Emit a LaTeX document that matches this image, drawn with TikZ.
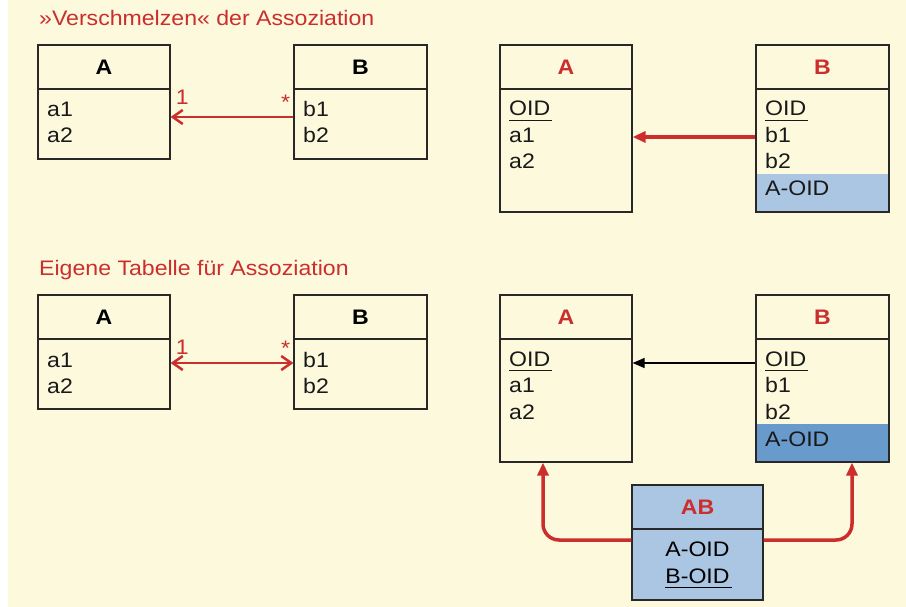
\documentclass[tikz,border=0pt]{standalone}
\usepackage{fontspec}
\setmainfont{Liberation Sans}[FakeStretch=1.1]
\usepackage{xcolor}
\usetikzlibrary{arrows.meta}

\definecolor{fondo}{RGB}{252,249,221}
\definecolor{rojo}{RGB}{204,45,45}
\definecolor{azulclaro}{RGB}{171,198,227}
\definecolor{azul}{RGB}{104,154,204}
\definecolor{borde}{RGB}{40,40,40}

% clave subrayada
\newcommand{\clave}[1]{\setbox0=\hbox{#1}\rlap{\rule[-5pt]{\dimexpr\wd0+2pt\relax}{1.1pt}}\box0}

\begin{document}
\begin{tikzpicture}[x=1pt, y=-1pt,
    every node/.style={font=\fontsize{21}{25}\selectfont},
    cabeza/.style={draw=borde, line width=1.2pt, minimum height=44pt, inner sep=0pt, font=\fontsize{21}{25}\selectfont\bfseries},
    cuerpo/.style={draw=borde, line width=1.2pt, inner sep=0pt},
    atributo/.style={anchor=base west, inner sep=0pt, text=black!90},
    mult/.style={text=rojo, inner sep=0pt},
    abierta/.style={draw=rojo, line width=2.5pt, -{Straight Barb[length=10pt,width=14pt]}},
    llena/.style={draw=rojo, line width=3.5pt, -{Triangle[length=13pt,width=11pt]}},
    fina/.style={draw=black, line width=1.2pt, -{Triangle[length=12pt,width=10pt]}}]

\useasboundingbox (0,0) rectangle (906,607);
\fill[fondo] (8,0) rectangle (906,607);

% Titulos
\node[anchor=base west, text=rojo, inner sep=0pt] (tit1) at (39,26) {»Verschmelzen« der Assoziation};
\node[anchor=base west, text=rojo, inner sep=0pt] (tit2) at (39,276) {Eigene Tabelle für Assoziation};

% Franjas azules
\node[fill=azulclaro, minimum width=133pt, minimum height=38pt, inner sep=0pt] (franja1) at (822.5,193) {};
\node[fill=azul, minimum width=133pt, minimum height=38pt, inner sep=0pt] (franja2) at (822.5,443) {};

% Clases (izquierda)
\foreach \n/\k/\l/\x/\w/\dy in {A1/A/a/104/132/0, B1/B/b/360.5/133/0,
                                A3/A/a/104/132/250, B3/B/b/360.5/133/250} {
    \node[cabeza, minimum width=\w pt] (\n k) at (\x,67+\dy) {\k};
    \node[cuerpo, minimum width=\w pt, minimum height=70pt] (\n r) at (\x,124+\dy) {};
    \node[atributo] (\n a1) at (\x-\w/2+9,117+\dy) {\l1};
    \node[atributo] (\n a2) at (\x-\w/2+9,143+\dy) {\l2};
}

% Tablas (derecha)
\foreach \n/\k/\l/\x/\w/\dy in {A2/A/a/566/132/0, B2/B/b/822.5/133/0,
                                A4/A/a/566/132/250, B4/B/b/822.5/133/250} {
    \node[cabeza, text=rojo, minimum width=\w pt] (\n k) at (\x,67+\dy) {\k};
    \node[cuerpo, minimum width=\w pt, minimum height=123pt] (\n r) at (\x,150.5+\dy) {};
    \node[atributo] (\n a0) at (\x-\w/2+9,116+\dy) {\clave{OID}};
    \node[atributo] (\n a1) at (\x-\w/2+9,142.5+\dy) {\l1};
    \node[atributo] (\n a2) at (\x-\w/2+9,169+\dy) {\l2};
}
\node[atributo] (B2a3) at (765,196) {A-OID};
\node[atributo] (B4a3) at (765,446) {A-OID};

% Tabla AB
\node[cabeza, fill=azulclaro, text=rojo, minimum width=131pt] (ABk) at (697.5,507) {AB};
\node[cuerpo, fill=azulclaro, minimum width=131pt, minimum height=71pt] (ABr) at (697.5,564.5) {};
\node[anchor=base, inner sep=0pt] (ABa1) at (697.5,556) {A-OID};
\node[anchor=base, inner sep=0pt] (ABa2) at (697.5,583) {\clave{B-OID}};

% Asociaciones
\draw[abierta] ([yshift=7pt]B1r.west) -- ([yshift=7pt]A1r.east);
\node[mult, anchor=base west] (m1) at ([xshift=5pt,yshift=19pt]A1r.east) {1};
\node[mult, anchor=base east] (m2) at ([xshift=-3pt,yshift=14pt]B1r.west) {*};

\draw[abierta, {Straight Barb[length=10pt,width=14pt]}-{Straight Barb[length=10pt,width=14pt]}]
    ([yshift=11pt]A3r.east) -- ([yshift=11pt]B3r.west);
\node[mult, anchor=base west] (m3) at ([xshift=5pt,yshift=20pt]A3r.east) {1};
\node[mult, anchor=base east] (m4) at ([xshift=-3pt,yshift=19pt]B3r.west) {*};

% Claves foraneas
\draw[llena] ([yshift=13.5pt]B2r.west) -- ([yshift=13.5pt]A2r.east);
\draw[fina] ([yshift=37.5pt]B4r.west) -- ([yshift=37.5pt]A4r.east);
\draw[llena, rounded corners=16pt] ([yshift=24.5pt]ABr.west) -| ([xshift=-23pt]A4r.south);
\draw[llena, rounded corners=16pt] ([yshift=24.5pt]ABr.east) -| ([xshift=29.5pt]B4r.south);

\end{tikzpicture}
\end{document}
